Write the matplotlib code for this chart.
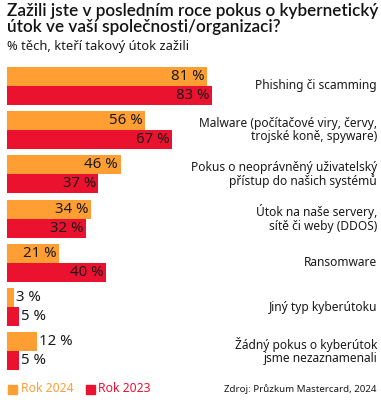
import matplotlib.pyplot as plt

plt.rcParams['font.family'] = ['Noto Sans', 'DejaVu Sans']

# data
categories = [
    'Phishing či scamming',
    'Malware (počítačové viry, červy,\ntrojské koně, spyware)',
    'Pokus o neoprávněný uživatelský\npřístup do našich systémů',
    'Útok na naše servery,\nsítě či weby (DDOS)',
    'Ransomware',
    'Jiný typ kyberútoku',
    'Žádný pokus o kyberútok\njsme nezaznamenali',
]
rok_2024 = [81, 56, 46, 34, 21, 3, 12]
rok_2023 = [83, 67, 37, 32, 40, 5, 5]

orange = '#FF9F33'
red = '#EB1230'
ink = '#1a1a1a'

W, H = 381, 403
fig = plt.figure(figsize=(W / 100, H / 100), dpi=100)

# axes placed in pixel terms: x=0 at 7px, 2.47 px per percent
top_px, bot_px = 60, 380
ax = fig.add_axes([7 / W, 1 - bot_px / H, 1 - 7 / W, (bot_px - top_px) / H])
step = 44.2
ax.set_xlim(0, (W - 7) / 2.47)
ax.set_ylim((bot_px - 86) / step, (top_px - 86) / step)
ax.axis('off')

bh = 0.43
y = list(range(len(categories)))
y1 = [i - bh / 2 for i in y]
y2 = [i + bh / 2 for i in y]
ax.barh(y1, rok_2024, height=bh, color=orange)
ax.barh(y2, rok_2023, height=bh, color=red)

def label_bars(ys, vals):
    for yy, v in zip(ys, vals):
        if v >= 15:
            ax.text(v - 1, yy, f'{v} %', ha='right', va='center', fontsize=10.8, color=ink)
        else:
            ax.text(v + 0.8, yy, f'{v} %', ha='left', va='center', fontsize=10.8, color=ink)

label_bars(y1, rok_2024)
label_bars(y2, rok_2023)

for yy, c in zip(y, categories):
    ax.text(1 - 4 / (W - 7), yy, c, transform=ax.get_yaxis_transform(),
            ha='right', va='center', fontsize=8.6, color=ink, linespacing=1.05)

# title
fig.text(7 / W, 1 - 3 / H, 'Zažili jste v posledním roce pokus o kybernetický\nútok ve vaší společnosti/organizaci?',
         ha='left', va='top', fontsize=12.3, fontweight='semibold', color='#141414',
         linespacing=0.98, family=['Lato', 'DejaVu Sans'])
fig.text(7 / W, 1 - 40 / H, '% těch, kteří takový útok zažili', ha='left', va='top',
         fontsize=9.3, color=ink)

# legend
ly = 1 - 389 / H
fig.patches.append(plt.Rectangle((8 / W, ly - 4.5 / H), 9 / W, 9 / H, transform=fig.transFigure, color=orange))
fig.text(21 / W, ly, 'Rok 2024', ha='left', va='center', fontsize=8.8, color=orange)
fig.patches.append(plt.Rectangle((86 / W, ly - 4.5 / H), 9 / W, 9 / H, transform=fig.transFigure, color=red))
fig.text(98 / W, ly, 'Rok 2023', ha='left', va='center', fontsize=8.8, color=red)
fig.text(1 - 4 / W, ly, 'Zdroj: Průzkum Mastercard, 2024', ha='right', va='center',
         fontsize=7.0, color=ink)

fig.savefig('out.png', dpi=100)
